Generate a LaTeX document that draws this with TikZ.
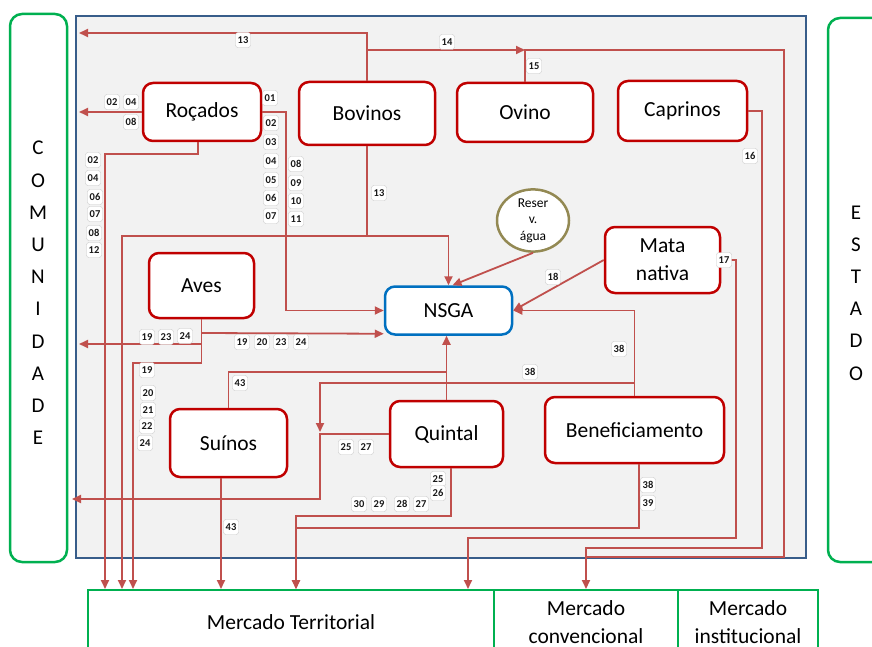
\documentclass[tikz,border=0pt]{standalone}
\usepackage{fontspec}
\setmainfont{Carlito}
\usetikzlibrary{arrows.meta,shapes.geometric}

\definecolor{boxred}{RGB}{192,0,0}
\definecolor{flowred}{RGB}{192,80,77}
\definecolor{frameblue}{RGB}{56,93,138}
\definecolor{nsgablue}{RGB}{0,112,192}
\definecolor{actgreen}{RGB}{0,176,80}
\definecolor{waterolive}{RGB}{147,137,83}
\definecolor{panel}{RGB}{242,242,242}

\begin{document}
\begin{tikzpicture}[x=1pt,y=-1pt,>={Triangle[length=9pt,width=8pt]},
                    line join=miter]
  \tikzstyle{unit}=[rectangle,rounded corners=10pt,draw=boxred,line width=2.5pt,fill=white,
                    font=\fontsize{21.5}{28}\selectfont,align=center,inner sep=0pt]
  \tikzstyle{flow}=[draw=flowred,line width=1.8pt]
  \tikzstyle{num}=[rectangle,rounded corners=2.5pt,draw=black!22,fill=white,inner sep=1pt,
                   minimum width=15,minimum height=15,
                   font=\fontsize{10.5}{10.5}\selectfont\bfseries,text=black!90]
  \tikzstyle{actor}=[rectangle,rounded corners=12pt,draw=actgreen,line width=2.5pt,inner sep=0pt]
  \tikzstyle{market}=[rectangle,draw=actgreen,line width=2pt,inner sep=0pt,
                      font=\fontsize{21.5}{28}\selectfont,align=center]
  \tikzstyle{letters}=[font=\fontsize{21}{32.2}\selectfont,align=center]

  \useasboundingbox (0,0) rectangle (872,647);
  \clip (0,0) rectangle (872,647);
  \fill[white] (0,0) rectangle (872,647);

  \node[draw=frameblue,line width=2.5pt,fill=panel,minimum width=730,minimum height=542,
        inner sep=0pt] (farm) at (441,287) {};
  \node[actor,minimum width=57,minimum height=548] (comunidade) at (38.5,288) {};
  \node[letters] (comtext) at (38,293) {C\\O\\M\\U\\N\\I\\D\\A\\D\\E};
  \node[actor,minimum width=62,minimum height=544] (estado) at (859,290) {};
  \node[letters] (esttext) at (856,293) {E\\S\\T\\A\\D\\O};

  \node[market,minimum width=406,minimum height=64] (territorial) at (291,622) {Mercado Territorial};
  \node[market,minimum width=184,minimum height=64] (convencional) at (586,622) {Mercado\\convencional};
  \node[market,minimum width=140,minimum height=64] (institucional) at (748,622) {Mercado\\institucional};

  \node[unit,minimum width=118,minimum height=58] (rocados)  at (202,112)   {Roçados};
  \node[unit,minimum width=136,minimum height=63] (bovinos)  at (367,113.5) {Bovinos};
  \node[unit,minimum width=136,minimum height=59] (ovino)    at (525,112.5) {Ovino};
  \node[unit,minimum width=129,minimum height=60] (caprinos) at (682.5,111) {Caprinos};
  \node[unit,minimum width=105,minimum height=65] (aves)     at (201.5,285.5) {Aves};
  \node[unit,draw=nsgablue,minimum width=127,minimum height=48] (nsga) at (448.5,310.5) {NSGA};
  \node[ellipse,draw=waterolive,line width=2.5pt,fill=white,minimum width=72,minimum height=57,
        inner sep=0pt,align=center,font=\fontsize{13.5}{16.5}\selectfont] (reserv) at (533,220.5) {Reser\\v.\\água};
  \node[unit,minimum width=115,minimum height=66] (mata)     at (662.5,260) {Mata\\nativa};
  \node[unit,minimum width=117,minimum height=68] (suinos)   at (228.5,443) {Suínos};
  \node[unit,minimum width=113,minimum height=66] (quintal)  at (446.5,434) {Quintal};
  \node[unit,minimum width=179,minimum height=66] (benef)    at (634.5,430) {Beneficiamento};

  \coordinate (c13) at (79,33);
  \coordinate (c02) at (79,112);
  \coordinate (c19) at (79,344);
  \coordinate (c25) at (72,499);
  \coordinate (j14) at (367,50);
  \coordinate (j13) at (367,236);
  \coordinate (j38) at (634.5,383);

  % Bovinos
  \draw[flow,->] (bovinos.north) |- (c13);
  \draw[flow,->] (j14) -- (ovino.north |- j14);
  \draw[flow,->] (bovinos.south) -- (j13) -| (nsga.north);
  \draw[flow,->] (j13) -| (122,589);
  % Ovino, Caprinos, Mata nativa
  \draw[flow] (ovino.north) |- (784,50) |- (586,557);
  \draw[flow,->] (caprinos.east) -| (762,548) -| (convencional.north);
  \draw[flow,->] (mata.east) -| (736,538) -| (468,589);
  \draw[flow,->] (mata.west) -- (nsga.east);
  \draw[flow,->] (reserv.south) -- ([xshift=4pt]nsga.north);
  % Roçados
  \draw[flow,->] (rocados.west) -- (c02);
  \draw[flow,->] (rocados.east) -| (286,310.5) -- (nsga.west);
  \draw[flow,->] ([xshift=-4pt]rocados.south) |- (105,154) -- (105,589);
  % Aves
  \draw[flow,->] (aves.south) |- (133,363) -- (133,589);
  \draw[flow,->] (201.5,333) -- ([yshift=2pt]nsga.south west);
  \draw[flow,->] (201.5,344) -- (c19);
  % Suinos, Quintal
  \draw[flow,->] ([xshift=-7.5pt]suinos.south) -- (221,589);
  \draw[flow] (suinos.north) |- (446.5,372);
  \draw[flow,->] (quintal.north) -- (quintal.north |- nsga.south);
  \draw[flow,->] (quintal.west) -| (320,499) -- (c25);
  \draw[flow,->] ([xshift=4.5pt]quintal.south) |- (296,516) -- (296,589);
  % Beneficiamento
  \draw[flow,->] (benef.north) |- (nsga.east);
  \draw[flow,->] (j38) -| (320,432);
  \draw[flow,->] ([xshift=4.5pt]benef.south) |- (296,528) -- (296,589);

  \node[num] (n13a) at (243,40)  {13};
  \node[num] (n14)  at (447,42)  {14};
  \node[num] (n15)  at (534,66)  {15};
  \node[num] (n02a) at (112,102) {02};
  \node[num] (n04a) at (131,102) {04};
  \node[num] (n08a) at (131,122) {08};
  \node[num] (n01)  at (270,98)  {01};
  \node[num] (n02b) at (271,123) {02};
  \node[num] (n03)  at (271,142) {03};
  \node[num] (n04b) at (271,161) {04};
  \node[num] (n05)  at (271,180) {05};
  \node[num] (n06b) at (271,198) {06};
  \node[num] (n07b) at (271,216) {07};
  \node[num] (n08b) at (296,164) {08};
  \node[num] (n09)  at (296,183) {09};
  \node[num] (n10)  at (296,201) {10};
  \node[num] (n11)  at (296,219) {11};
  \node[num] (n02c) at (93,160)  {02};
  \node[num] (n04c) at (93,178)  {04};
  \node[num] (n06c) at (95,197)  {06};
  \node[num] (n07c) at (95,214)  {07};
  \node[num] (n08c) at (94,233)  {08};
  \node[num] (n12)  at (94,250)  {12};
  \node[num] (n13b) at (379,193) {13};
  \node[num] (n16)  at (750,156) {16};
  \node[num] (n17)  at (724,260) {17};
  \node[num] (n18)  at (553,277) {18};
  \node[num] (n19a) at (147,337) {19};
  \node[num] (n23a) at (166,337) {23};
  \node[num] (n24a) at (185,336) {24};
  \node[num] (n19b) at (242,342) {19};
  \node[num] (n20b) at (262,342) {20};
  \node[num] (n23b) at (281,342) {23};
  \node[num] (n24b) at (301,342) {24};
  \node[num] (n19c) at (147,370) {19};
  \node[num] (n20c) at (148,393) {20};
  \node[num] (n21)  at (148,410) {21};
  \node[num] (n22)  at (147,426) {22};
  \node[num] (n24c) at (145,443) {24};
  \node[num] (n43a) at (240,383) {43};
  \node[num] (n38a) at (530,372) {38};
  \node[num] (n38b) at (619,349) {38};
  \node[num] (n25a) at (346,447) {25};
  \node[num] (n27a) at (366,447) {27};
  \node[num] (n25b) at (438,479) {25};
  \node[num] (n26)  at (438,493) {26};
  \node[num] (n30)  at (359,504) {30};
  \node[num] (n29)  at (379,504) {29};
  \node[num] (n28)  at (402,504) {28};
  \node[num] (n27b) at (421,504) {27};
  \node[num] (n43b) at (231,527) {43};
  \node[num] (n38c) at (648,485) {38};
  \node[num] (n39)  at (648,503) {39};

\end{tikzpicture}
\end{document}
